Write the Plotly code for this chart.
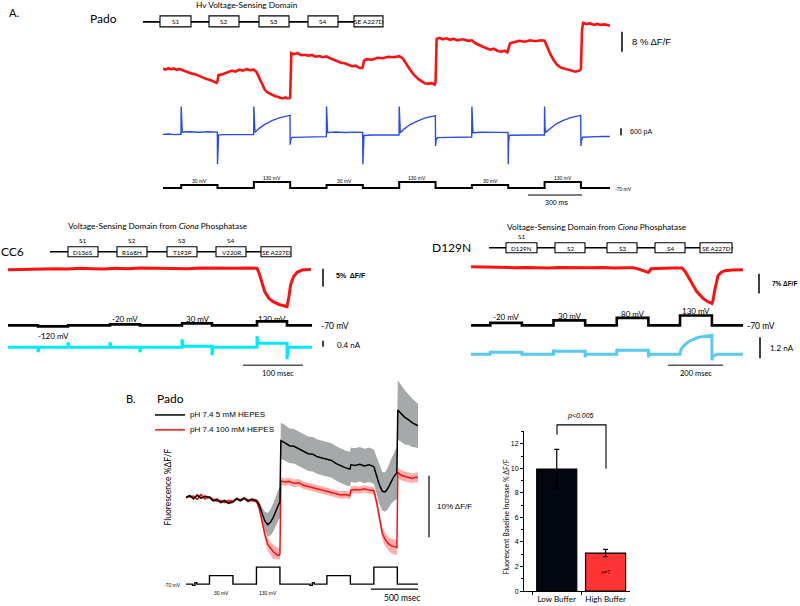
import plotly.graph_objects as go

W, H = 800, 606
SANS = "Lato"
ARIAL = "Liberation Sans"

# ======================= DATA =======================
# Panel A, Pado: fluorescence (%dF/F) vs time (ms)
PADO_F = [(0, 0.4), (15, 0.0), (30, 0.6), (45, 0.2), (60, 0.5), (75, -0.1), (90, 0.3), (100, 0.0),
          (120, -0.6), (140, -1.0), (160, -1.6), (180, -1.9), (200, -2.6), (220, -3.0), (240, -3.8),
          (260, -4.2), (280, -5.0), (295, -5.3), (300, -4.6), (305, -2.2), (320, -2.0), (340, -1.4),
          (360, -1.0), (380, -0.4), (400, -0.8), (420, 0.0), (440, -0.4), (460, 0.2), (480, -0.2),
          (500, 0.0), (515, -1.0), (530, -3.5), (545, -6.0), (560, -8.0), (575, -9.2), (595, -10.0),
          (615, -10.6), (635, -11.0), (655, -11.6), (675, -11.2), (690, -12.0), (700, -11.2),
          (706, 6.6), (720, 6.2), (740, 6.6), (760, 5.8), (780, 6.0), (800, 5.6), (820, 5.9),
          (840, 5.2), (860, 5.5), (880, 5.0), (900, 5.3), (920, 4.6), (940, 4.0), (960, 3.6),
          (980, 2.8), (1000, 2.6), (1020, 2.0), (1040, 1.4), (1060, 1.6), (1080, 0.8), (1095, 0.6),
          (1100, 1.2), (1106, 3.6), (1120, 4.2), (1150, 4.0), (1180, 4.8), (1210, 4.6), (1240, 5.2),
          (1270, 5.0), (1300, 5.4), (1320, 4.5), (1340, 2.5), (1360, 0.0), (1380, -2.0), (1400, -3.5),
          (1420, -4.5), (1440, -5.5), (1460, -5.6), (1480, -5.4), (1495, -6.0), (1500, -5.0),
          (1506, 12.4), (1520, 12.8), (1540, 12.2), (1560, 12.6), (1580, 12.0), (1600, 12.4),
          (1620, 11.8), (1650, 12.2), (1680, 11.6), (1700, 11.8), (1720, 10.6), (1740, 9.8),
          (1760, 9.2), (1780, 8.6), (1800, 8.0), (1820, 8.4), (1840, 7.6), (1860, 7.2), (1880, 7.6),
          (1895, 7.0), (1900, 8.0), (1910, 10.6), (1930, 11.0), (1960, 11.6), (1990, 11.2),
          (2020, 11.8), (2050, 11.4), (2080, 11.8), (2100, 11.6), (2115, 9.0), (2130, 6.5),
          (2150, 3.8), (2170, 1.8), (2190, 0.8), (2210, 0.4), (2230, 0.0), (2250, -0.4),
          (2270, -0.8), (2290, -0.4), (2300, 0.2), (2306, 16.0), (2312, 18.8), (2330, 18.4),
          (2350, 18.6), (2370, 18.0), (2390, 18.4), (2410, 18.0), (2430, 18.2), (2460, 17.6)]

# Panel A, Pado: current (pA)
PADO_I = [(0, 0), (30, 30), (60, -20), (99, 10),
          (100, 2400), (102, 600), (106, 200), (150, 230), (200, 180), (250, 220), (299, 190),
          (300, -2580), (302, -700), (306, -50), (350, -20), (400, -40), (450, 0), (499, -20),
          (500, 2400), (502, 700), (506, 180), (530, 520), (560, 860), (600, 1180), (640, 1420),
          (680, 1580), (699, 1640),
          (700, -900), (703, -450), (710, -260), (760, -240), (820, -220), (899, -200),
          (900, 2400), (902, 600), (906, 150), (950, 200), (1000, 160), (1050, 190), (1099, 170),
          (1100, -2580), (1102, -700), (1106, -100), (1150, -60), (1200, -80), (1250, -50), (1299, -60),
          (1300, 2400), (1302, 700), (1306, 150), (1330, 500), (1360, 850), (1400, 1150),
          (1440, 1400), (1480, 1560), (1499, 1600),
          (1500, -1000), (1503, -500), (1510, -280), (1560, -250), (1620, -240), (1699, -230),
          (1700, 2400), (1702, 600), (1706, 140), (1750, 180), (1800, 150), (1850, 170), (1899, 160),
          (1900, -2580), (1902, -700), (1906, -80), (1950, -60), (2000, -70), (2050, -50), (2099, -60),
          (2100, 2400), (2102, 700), (2106, 170), (2130, 520), (2160, 870), (2200, 1180),
          (2240, 1420), (2280, 1580), (2299, 1640),
          (2300, -1000), (2303, -500), (2310, -250), (2360, -200), (2420, -180), (2460, -180)]

# Panel A, Pado: voltage protocol (mV)
PADO_V_T = [0, 100, 100, 300, 300, 500, 500, 700, 700, 900, 900, 1100, 1100, 1300, 1300,
            1500, 1500, 1700, 1700, 1900, 1900, 2100, 2100, 2300, 2300, 2460]
PADO_V = [-70, -70, 30, 30, -70, -70, 130, 130, -70, -70, 30, 30, -70, -70, 130,
          130, -70, -70, 30, 30, -70, -70, 130, 130, -70, -70]
PADO_STEP_LABELS = [(200, "30 mV"), (600, "130 mV"), (1000, "30 mV"),
                    (1400, "130 mV"), (1800, "30 mV"), (2200, "130 mV")]

# CC6 panel
CC6_F = [(0, -0.3), (20, -0.2), (40, -0.1), (60, -0.2), (80, 0.0), (100, -0.1), (120, 0.1),
         (140, 0.0), (160, -0.1), (180, 0.1), (200, 0.0), (220, 0.2), (240, 0.1), (260, 0.0),
         (280, 0.1), (300, 0.0), (320, 0.2), (340, 0.1), (360, 0.0), (380, 0.1), (400, 0.2),
         (415, 0.1), (419, -1.5), (423, -4.0), (428, -6.5), (435, -8.3), (442, -9.2), (452, -10.0),
         (462, -10.5), (465, -10.6), (468, -8.0), (471, -4.5), (476, -2.2), (482, -1.0),
         (490, -0.4), (505, -0.2)]
CC6_V_T = [0, 50, 50, 100, 100, 170, 170, 220, 220, 290, 290, 340, 340, 415, 415, 465, 465, 507]
CC6_V = [-70, -70, -120, -120, -70, -70, -20, -20, -70, -70, 30, 30, -70, -70, 130, 130, -70, -70]
CC6_I = [(0, 0), (50, 0), (50, -0.4), (52, 0), (100, 0), (100, 0.4), (102, 0), (170, 0),
         (170, 0.4), (172, 0), (220, 0), (220, -0.4), (222, 0), (290, 0), (290, 0.64), (292, 0.08),
         (340, 0.08), (340, -0.64), (342, 0), (415, 0), (415, 0.88), (417, 0.32), (465, 0.32),
         (465, -0.96), (467, 0), (507, 0)]
CC6_STEP_LABELS = [(75, "-120 mV"), (195, "-20 mV"), (315, "30 mV"), (440, "130 mV")]

# D129N panel
D_F = [(0, 0.3), (40, 0.2), (80, 0.1), (120, 0.2), (160, 0.0), (200, 0.1), (240, 0.0),
       (280, -0.1), (320, 0.1), (360, 0.0), (400, -0.1), (440, 0.0), (480, 0.1), (520, -0.1),
       (560, 0.0), (590, 0.0), (610, -0.5), (630, -1.1), (645, -1.7), (655, -0.4), (665, -0.3),
       (700, -0.2), (740, -0.1), (767, -0.1), (780, -1.5), (795, -4.0), (807, -6.3), (820, -8.3),
       (844, -10.8), (860, -11.9), (876, -12.6), (880, -11.5), (886, -8.0), (892, -5.0),
       (898, -2.8), (910, -1.6), (924, -1.05), (950, -0.8), (989, -0.7)]
D_V_T = [0, 70, 70, 185, 185, 300, 300, 415, 415, 530, 530, 645, 645, 760, 760, 876, 876, 989]
D_V = [-70, -70, -20, -20, -70, -70, 30, 30, -70, -70, 80, 80, -70, -70, 130, 130, -70, -70]
D_I = [(0, 0), (70, 0), (70, 0.17), (73, 0.11), (185, 0.11), (185, -0.06), (188, 0), (300, 0),
       (300, 0.26), (303, 0.17), (415, 0.17), (415, -0.17), (418, 0), (530, 0), (530, 0.3),
       (533, 0.23), (645, 0.23), (645, -0.17), (648, 0), (760, 0), (762, 0.2), (768, 0.38),
       (778, 0.55), (790, 0.7), (805, 0.83), (820, 0.93), (840, 1.01), (860, 1.06), (876, 1.09),
       (876, -0.35), (882, -0.1), (895, 0), (989, 0)]
D_STEP_LABELS = [(127, "-20 mV"), (357, "30 mV"), (587, "80 mV"), (818, "130 mV")]

# Panel B: mean +/- SEM fluorescence
TB = [0, 40, 80, 120, 160, 200, 250, 290, 330, 370, 410, 450, 500, 540, 580, 620, 660, 700, 750,
      780, 810, 840, 870, 900, 930, 960, 990, 1000, 1010, 1050, 1100, 1150, 1200, 1250, 1300, 1350,
      1400, 1450, 1500, 1550, 1600, 1650, 1700, 1745, 1755, 1800, 1850, 1900, 1950, 2000, 2030,
      2060, 2090, 2120, 2150, 2180, 2210, 2245, 2255, 2290, 2330, 2370, 2410, 2450, 2470]
LOW_MEAN = [0.0, 0.3, -0.2, 0.4, -0.1, 0.2, 0.0, -0.5, -0.3, -0.8,
            -0.5, -0.9, -0.7, -0.2, -0.5, -0.1, -0.6, -0.3, -0.5, -1.2,
            -2.6, -3.8, -4.4, -4.0, -3.2, -2.0, -1.0, -0.8, 9.2, 8.9,
            8.4, 8.3, 7.9, 7.6, 7.1, 7.0, 6.6, 6.4, 6.2, 6.0,
            5.5, 5.1, 4.8, 4.6, 5.3, 5.2, 5.4, 5.1, 5.3, 5.0,
            3.6, 2.0, 1.0, 0.9, 1.5, 2.5, 3.3, 4.0, 14.2, 13.6,
            13.0, 12.6, 12.1, 11.8, 11.6]
LOW_SEM = [0.2, 0.2, 0.2, 0.2, 0.2, 0.2, 0.2, 0.25, 0.25, 0.25,
           0.25, 0.25, 0.25, 0.25, 0.25, 0.25, 0.25, 0.25, 0.3, 0.6,
           1.0, 1.5, 1.9, 2.1, 2.3, 2.4, 2.5, 2.5, 2.9, 2.9,
           2.8, 2.8, 2.8, 2.8, 2.8, 2.8, 2.8, 2.8, 2.8, 2.8,
           2.8, 2.8, 2.8, 2.8, 2.8, 2.8, 2.8, 2.8, 2.8, 2.8,
           3.0, 3.1, 3.1, 3.2, 3.4, 3.6, 3.9, 4.2, 4.8, 4.6,
           4.4, 4.1, 3.9, 3.7, 3.6]
HIGH_MEAN = [0.1, 0.1, 0.2, -0.3, 0.5, -0.2, 0.1, -0.3, -0.6, -0.5,
             -0.8, -0.5, -0.6, -0.2, -0.4, -0.1, -0.4, -0.5, -0.6, -1.8,
             -4.0, -6.0, -7.6, -8.3, -8.8, -9.2, -9.4, -9.2, 2.7, 2.5,
             2.6, 2.3, 2.4, 2.0, 1.8, 1.6, 1.3, 1.1, 1.0, 0.7,
             0.6, 0.4, 0.5, 0.3, 1.2, 1.3, 1.2, 1.4, 1.2, 1.1,
             -0.8, -3.5, -5.8, -6.8, -7.4, -7.8, -8.0, -8.1, 4.1, 3.6,
             3.4, 3.3, 3.1, 3.3, 3.2]
HIGH_SEM = [0.2, 0.2, 0.2, 0.2, 0.2, 0.2, 0.2, 0.2, 0.2, 0.2,
            0.2, 0.2, 0.2, 0.2, 0.2, 0.2, 0.2, 0.2, 0.3, 0.4,
            0.6, 0.8, 1.0, 1.1, 1.2, 1.2, 1.2, 1.2, 0.6, 0.6,
            0.6, 0.6, 0.6, 0.6, 0.6, 0.6, 0.6, 0.6, 0.6, 0.6,
            0.6, 0.6, 0.6, 0.6, 0.6, 0.6, 0.6, 0.6, 0.6, 0.6,
            0.7, 0.9, 1.0, 1.1, 1.1, 1.2, 1.2, 1.2, 0.8, 0.8,
            0.8, 0.8, 0.8, 0.8, 0.8]
B_V_T = [0, 70, 70, 95, 95, 115, 115, 250, 250, 500, 500, 750, 750, 1000, 1000, 1320, 1320,
         1345, 1345, 1365, 1365, 1500, 1500, 1750, 1750, 2000, 2000, 2250, 2250, 2470]
B_V = [-70, -70, -85, -85, -55, -55, -70, -70, 30, 30, -70, -70, 130, 130, -70, -70, -85,
       -85, -55, -55, -70, -70, 30, 30, -70, -70, 130, 130, -70, -70]
B_STEP_LABELS = [(375, "30 mV"), (875, "130 mV")]
LEGEND_LABELS = ["pH 7.4 5 mM HEPES", "pH 7.4 100 mM HEPES"]

# Bar chart
BAR_CATS = ["Low Buffer", "High Buffer"]
BAR_VALS = [9.95, 3.1]
BAR_ERR = [1.6, 0.3]
BAR_N = ["", "n=7"]

PADO_BOXES = ["S1", "S2", "S3", "S4", "SE A227D"]
CC6_BOXES = ["D136S", "R168H", "T193P", "V220R", "SE A227D"]
CC6_TOP = ["S1", "S2", "S3", "S4", ""]
D_BOXES = ["D129N", "S2", "S3", "S4", "SE A227D"]
D_TOP = ["S1", "", "", "", ""]

# ======================= HELPERS =======================
def X(p):
    return p / W


def Y(p):
    return 1 - p / H


def dom_y(top, bottom):
    return [Y(bottom), Y(top)]


def unzip(pairs):
    t, v = zip(*pairs)
    return list(t), list(v)


fig = go.Figure()


def line(x, y, xa, ya, color, width):
    fig.add_trace(go.Scatter(x=x, y=y, xaxis=xa, yaxis=ya, mode="lines",
                             line=dict(color=color, width=width),
                             hoverinfo="skip", showlegend=False))


annotations = []
shapes = []


def T(x, y, text, size=8, xanchor="left", family=SANS, color="black", angle=0,
      xref="paper", yanchor="middle"):
    annotations.append(dict(x=X(x) if xref == "paper" else x, y=Y(y), xref=xref, yref="paper",
                            text=text, showarrow=False, xanchor=xanchor, yanchor=yanchor,
                            textangle=angle, font=dict(family=family, size=size, color=color)))


def seg(x0, y0, x1, y1, width=1.2, color="black"):
    shapes.append(dict(type="line", xref="paper", yref="paper", x0=X(x0), y0=Y(y0),
                       x1=X(x1), y1=Y(y1), line=dict(color=color, width=width)))


def domain_diagram(ly, lx0, lx1, box_x, labels, top_labels, box_top, box_bot, size):
    seg(lx0, ly, lx1, ly, width=1.6)
    for (a, b), lab, top in zip(box_x, labels, top_labels):
        shapes.append(dict(type="rect", xref="paper", yref="paper", x0=X(a), x1=X(b),
                           y0=Y(box_bot), y1=Y(box_top), fillcolor="white",
                           line=dict(color="black", width=1.1)))
        T((a + b) / 2, (box_top + box_bot) / 2 + 0.3, lab, size=size, xanchor="center")
        if top:
            T((a + b) / 2, box_top - 6.5, top, size=6.5, xanchor="center")


# ======================= PANEL A: Pado =======================
t, v = unzip(PADO_F)
line(t, v, "x", "y", "#ff1010", 2.6)
t, v = unzip(PADO_I)
line(t, v, "x", "y2", "#2a4bf0", 1.4)
line(PADO_V_T, PADO_V, "x", "y3", "black", 2.0)

T(7, 13, "A.", size=11)
T(88, 19, "Pado", size=12)
T(247, 5, "Hv Voltage-Sensing Domain", size=8.3, xanchor="center")
domain_diagram(22, 143, 383, [(160, 191), (209, 239), (259, 289), (308, 338), (354, 383)],
               PADO_BOXES, ["", "", "", "", ""], 16, 27, 6.5)
seg(622, 32, 622, 52, 1.5)
T(630, 42, "8 % ΔF/F", size=9.5, family=ARIAL)
seg(621, 129, 621, 136, 1.5)
T(628, 132.5, "600 pA", size=7, family=ARIAL)
for tt, lab in PADO_STEP_LABELS:
    yy = 179 if lab.startswith("130") else 181.5
    T(tt, yy, lab, size=5, xanchor="center", xref="x", family=ARIAL)
T(613, 189.5, "-70 mV", size=5, family=ARIAL)
seg(528, 196, 582, 196, 1.0)
T(556, 204, "300 ms", size=7, xanchor="center", family=ARIAL)

# ======================= CC6 =======================
t, v = unzip(CC6_F)
line(t, v, "x2", "y4", "#ff1010", 3.0)
line(CC6_V_T, CC6_V, "x2", "y5", "black", 2.6)
t, v = unzip(CC6_I)
line(t, v, "x2", "y6", "#00eaff", 3.0)

T(158, 227, "Voltage-Sensing Domain from <i>Ciona</i> Phosphatase", size=8.3, xanchor="center")
T(-1, 253, "CC6", size=12)
domain_diagram(253, 50, 291, [(68, 98), (117, 147), (167, 197), (216, 246), (261, 291)],
               CC6_BOXES, CC6_TOP, 248, 258, 6.3)
seg(323, 270, 323, 288, 1.5)
T(334, 277, "<b>5%  ΔF/F</b>", size=7, family=ARIAL)
for tt, lab in CC6_STEP_LABELS:
    yy = 337.5 if lab.startswith("-120") else 320.5
    T(tt, yy, lab, size=8, xanchor="center", xref="x2")
T(319, 328, "-70 mV", size=8.5)
seg(323, 342.5, 323, 348.5, 1.5)
T(335, 347, "0.4 nA", size=8)
seg(243, 367, 303, 367, 1.0)
T(278, 375.5, "100 msec", size=7.5, xanchor="center")

# ======================= D129N =======================
t, v = unzip(D_F)
line(t, v, "x3", "y7", "#ff1010", 3.0)
line(D_V_T, D_V, "x3", "y8", "black", 2.6)
t, v = unzip(D_I)
line(t, v, "x3", "y9", "#58c8f5", 3.0)

T(597, 228, "Voltage-Sensing Domain from <i>Ciona</i> Phosphatase", size=8.3, xanchor="center")
T(430, 249, "D129N", size=12)
domain_diagram(249, 489, 733, [(506, 537), (555, 585), (607, 637), (655, 685), (700, 732)],
               D_BOXES, D_TOP, 244, 254, 6.3)
seg(759, 275, 759, 295, 1.5)
T(770, 285, "<b>7% ΔF/F</b>", size=6.5, family=ARIAL)
for (tt, lab), yy in zip(D_STEP_LABELS, [319, 318, 316, 313]):
    T(tt, yy, lab, size=8, xanchor="center", xref="x3")
T(745, 327.5, "-70 mV", size=8.5)
seg(760, 339, 760, 360, 1.5)
T(768, 350, "1.2 nA", size=8)
seg(668, 367, 723, 367, 1.0)
T(696, 375.5, "200 msec", size=7.5, xanchor="center")

# ======================= PANEL B =======================
lo_low = [m - s for m, s in zip(LOW_MEAN, LOW_SEM)]
hi_low = [m + s for m, s in zip(LOW_MEAN, LOW_SEM)]
lo_high = [m - s for m, s in zip(HIGH_MEAN, HIGH_SEM)]
hi_high = [m + s for m, s in zip(HIGH_MEAN, HIGH_SEM)]
fig.add_trace(go.Scatter(x=TB, y=lo_low, xaxis="x4", yaxis="y10", mode="lines",
                         line=dict(width=0, color="rgba(0,0,0,0)"), showlegend=False, hoverinfo="skip"))
fig.add_trace(go.Scatter(x=TB, y=hi_low, xaxis="x4", yaxis="y10", mode="lines", fill="tonexty",
                         fillcolor="rgba(150,154,154,0.85)",
                         line=dict(width=0, color="rgba(0,0,0,0)"), showlegend=False, hoverinfo="skip"))
fig.add_trace(go.Scatter(x=TB, y=lo_high, xaxis="x4", yaxis="y10", mode="lines",
                         line=dict(width=0, color="rgba(0,0,0,0)"), showlegend=False, hoverinfo="skip"))
fig.add_trace(go.Scatter(x=TB, y=hi_high, xaxis="x4", yaxis="y10", mode="lines", fill="tonexty",
                         fillcolor="rgba(255,110,110,0.55)",
                         line=dict(width=0, color="rgba(0,0,0,0)"), showlegend=False, hoverinfo="skip"))
line(TB, HIGH_MEAN, "x4", "y10", "#ff1010", 1.5)
line(TB, LOW_MEAN, "x4", "y10", "black", 1.5)
line(B_V_T, B_V, "x4", "y11", "black", 1.4)

T(124, 400, "B.", size=11)
T(155, 400, "Pado", size=12)
seg(155, 417, 185, 417, 1.5, "black")
seg(155, 432, 185, 432, 1.5, "#ff1010")
T(188, 417, LEGEND_LABELS[0], size=8, family=ARIAL)
T(188, 432, LEGEND_LABELS[1], size=8, family=ARIAL)
T(168, 490, "Fluorescence %ΔF/F", size=8.5, xanchor="center", angle=-90)
seg(429, 478, 429, 540, 1.2)
T(435, 509, "10% ΔF/F", size=8, family=ARIAL)
T(183, 588, "-70 mV", size=5, xanchor="right", family=ARIAL)
for tt, lab in B_STEP_LABELS:
    T(tt, 596, lab, size=5, xanchor="center", xref="x4", family=ARIAL)
seg(371, 592, 418, 592, 1.2)
T(402, 601, "500 msec", size=8.5, xanchor="center")

# ======================= BAR CHART =======================
fig.add_trace(go.Bar(x=BAR_CATS, y=BAR_VALS, xaxis="x5", yaxis="y12", width=0.82,
                     marker=dict(color=["#03070f", "#ff3535"], line=dict(color="black", width=1.2)),
                     error_y=dict(type="data", array=BAR_ERR, color="black", thickness=1.2, width=2.5),
                     text=BAR_N, textposition="inside", insidetextanchor="middle",
                     textfont=dict(family=ARIAL, size=5.5, color="black"),
                     showlegend=False, hoverinfo="skip"))
shapes.append(dict(type="path", xref="paper", yref="paper",
                   path=f"M {X(557)},{Y(437)} L {X(557)},{Y(427)} L {X(606)},{Y(427)} L {X(606)},{Y(471)}",
                   line=dict(color="black", width=1.1)))
T(580, 418, "<i>p<0.005</i>", size=7, xanchor="center", family=ARIAL)
T(506, 519, "Fluorescent Baseline Increase % ΔF/F", size=7, xanchor="center", angle=-90)

# ======================= LAYOUT =======================
hid = dict(visible=False, showgrid=False, zeroline=False, fixedrange=True)
layout = dict(
    width=W, height=H, margin=dict(l=0, r=0, t=0, b=0),
    paper_bgcolor="white", plot_bgcolor="white", showlegend=False,
    xaxis=dict(domain=[X(163), X(610)], range=[0, 2460], anchor="y", **hid),
    yaxis=dict(domain=dom_y(20, 100), range=[-12, 20], anchor="x", **hid),
    yaxis2=dict(domain=dom_y(104, 168), range=[-2840, 2670], anchor="x", **hid),
    yaxis3=dict(domain=dom_y(178, 195), range=[-270, 297], anchor="x", **hid),
    xaxis2=dict(domain=[X(8), X(312.2)], range=[0, 507], anchor="y4", **hid),
    yaxis4=dict(domain=dom_y(262, 312), range=[-11.67, 2.22], anchor="x2", **hid),
    yaxis5=dict(domain=dom_y(316, 334), range=[-420, 480], anchor="x2", **hid),
    yaxis6=dict(domain=dom_y(334, 366), range=[-1.36, 1.2], anchor="x2", **hid),
    xaxis3=dict(domain=[X(471), X(743)], range=[0, 989], anchor="y7", **hid),
    yaxis7=dict(domain=dom_y(262, 310), range=[-14.34, 2.45], anchor="x3", **hid),
    yaxis8=dict(domain=dom_y(312, 334), range=[-210, 230], anchor="x3", **hid),
    yaxis9=dict(domain=dom_y(332, 368), range=[-0.686, 1.371], anchor="x3", **hid),
    xaxis4=dict(domain=[X(186), X(418)], range=[0, 2470], anchor="y10", **hid),
    yaxis10=dict(domain=dom_y(382, 600), range=[-16.13, 19.03], anchor="x4", **hid),
    yaxis11=dict(domain=dom_y(562, 592), range=[-129, 224], anchor="x4", **hid),
    xaxis5=dict(domain=[X(524), X(630)], range=[-0.67, 1.5], anchor="y12", type="category",
                showline=True, linecolor="black", linewidth=1, ticks="outside", ticklen=3,
                tickson="boundaries", tickcolor="black", showgrid=False, zeroline=False,
                tickfont=dict(family=SANS, size=8, color="black"), fixedrange=True),
    yaxis12=dict(domain=dom_y(433, 594), range=[0, 13.06], anchor="x5", dtick=2,
                 showline=True, linecolor="black", linewidth=1, ticks="outside", ticklen=3,
                 tickcolor="black", showgrid=False, zeroline=False,
                 minor=dict(ticks="outside", ticklen=2, dtick=1, tickcolor="black"),
                 tickfont=dict(family=ARIAL, size=7, color="black"), fixedrange=True),
    shapes=shapes, annotations=annotations,
)
fig.update_layout(**layout)
fig.write_html("out.html", config={"displayModeBar": False},
               post_script="document.body.style.margin='0';document.body.style.padding='0';")
